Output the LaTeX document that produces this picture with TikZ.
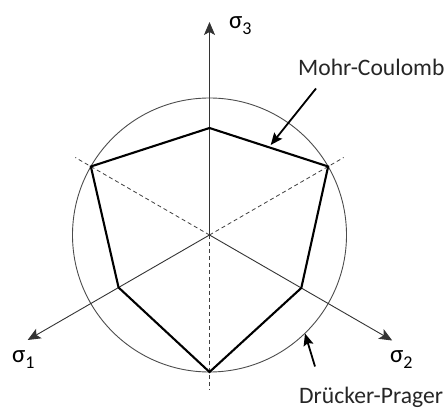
\documentclass[tikz,border=0pt]{standalone}
\usepackage{fontspec}
\setmainfont{Carlito}
\usetikzlibrary{arrows.meta,calc}
\begin{document}
\begin{tikzpicture}[x=1pt,y=1pt,
  axis/.style={line width=0.9pt,draw=black!80,-{Stealth[length=13pt,width=11pt,inset=3pt]}},
  dashline/.style={line width=0.8pt,draw=black!75,dash pattern=on 4pt off 3pt},
  yield/.style={line width=2.1pt,line join=miter},
  circ/.style={line width=0.9pt,draw=black!70},
  pointer/.style={line width=1.8pt,-{Stealth[length=12pt,width=10pt,inset=2pt]}},
  lbl/.style={font=\fontsize{23.6}{26}\selectfont,inner sep=0pt,text=black!85},
  sig/.style={font=\fontsize{25}{26}\selectfont,inner sep=0pt}]
\useasboundingbox (0,0) rectangle (445,410);
\coordinate (O) at (209.5,175);
% circle (Drucker-Prager)
\draw[circ] (O) circle (137);
% dashed lines
\coordinate (d1) at ($(O)+(30:155)$);
\coordinate (d2) at ($(O)+(150:155)$);
\coordinate (d3) at ($(O)+(270:155)$);
\draw[dashline] (O) -- (d1);
\draw[dashline] (O) -- (d2);
\draw[dashline] (O) -- (d3);
% axes
\coordinate (s3) at ($(O)+(90:213)$);
\coordinate (s1) at ($(O)+(210:210)$);
\coordinate (s2) at ($(O)+(330:211)$);
\draw[axis] (O) -- (s3);
\draw[axis] (O) -- (s1);
\draw[axis] (O) -- (s2);
% Mohr-Coulomb hexagon
\coordinate (v90) at ($(O)+(90:107)$);
\coordinate (v30) at ($(O)+(30:137)$);
\coordinate (v330) at ($(O)+(330:106)$);
\coordinate (v270) at ($(O)+(270:137)$);
\coordinate (v210) at ($(O)+(210:105)$);
\coordinate (v150) at ($(O)+(150:137)$);
\draw[yield] (v90) -- (v30) -- (v330) -- (v270) -- (v210) -- (v150) -- cycle;
% labels
\node[sig,anchor=west] (L3) at (229,384) {σ\raisebox{-6pt}{\fontsize{18}{18}\selectfont 3}};
\node[sig,anchor=west] (L1) at (12,50) {σ\raisebox{-6pt}{\fontsize{18}{18}\selectfont 1}};
\node[sig,anchor=west] (L2) at (390,50) {σ\raisebox{-6pt}{\fontsize{18}{18}\selectfont 2}};
\node[lbl,anchor=base west] (MC) at (298,334) {Mohr-Coulomb};
\node[lbl,anchor=base west] (DP) at (299,6.5) {Drücker-Prager};
% pointers
\coordinate (mct) at (316,321.5);
\coordinate (mch) at (270.7,265);
\draw[pointer] (mct) -- (mch);
\coordinate (dpt) at (315,43.5);
\coordinate (dph) at (305,76.5);
\draw[pointer] (dpt) -- (dph);
\end{tikzpicture}
\end{document}
